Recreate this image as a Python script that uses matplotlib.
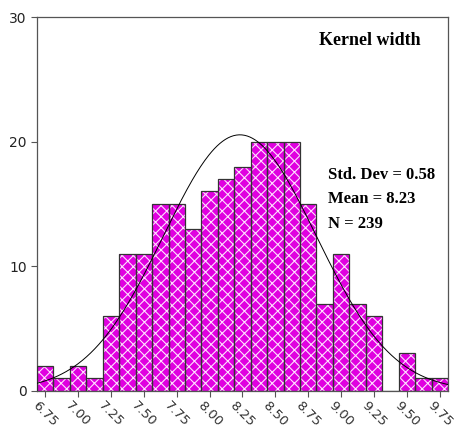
import numpy as np
import matplotlib
matplotlib.use("Agg")
import matplotlib.pyplot as plt
from matplotlib.transforms import ScaledTranslation

bin_centers = [6.75, 6.875, 7.0, 7.125, 7.25, 7.375, 7.5, 7.625, 7.75, 7.875,
               8.0, 8.125, 8.25, 8.375, 8.5, 8.625, 8.75, 8.875, 9.0, 9.125,
               9.25, 9.375, 9.5, 9.625, 9.75]
counts = [2, 1, 2, 1, 6, 11, 11, 15, 15, 13,
          16, 17, 18, 20, 20, 20, 15, 7, 11, 7,
          6, 0, 3, 1, 1]
bin_width = 0.125
mean_val = 8.23
std_val = 0.58
n_val = 239
xtick_vals = [6.75, 7.00, 7.25, 7.50, 7.75, 8.00, 8.25, 8.50, 8.75, 9.00, 9.25, 9.50, 9.75]
ytick_vals = [0, 10, 20, 30]

plt.rcParams["hatch.linewidth"] = 0.8

fig = plt.figure(figsize=(4.59, 4.28), dpi=100)
ax = fig.add_axes([0.0806, 0.0871, 0.8954, 0.8729])

magenta = "#E000E0"
ax.bar(bin_centers, counts, width=bin_width, color=magenta, edgecolor="#FFE0FF",
       hatch="xxx", linewidth=0, zorder=2)
ax.bar(bin_centers, counts, width=bin_width, fill=False, edgecolor="#333333",
       linewidth=0.9, zorder=3)

xlo = bin_centers[0] - bin_width / 2
xhi = bin_centers[-1] + bin_width / 2
xs = np.linspace(xlo, xhi, 300)
ys = n_val * bin_width / (std_val * np.sqrt(2 * np.pi)) * np.exp(-0.5 * ((xs - mean_val) / std_val) ** 2)
ax.plot(xs, ys, color="black", linewidth=0.7, zorder=4)

ax.set_xlim(xlo, xhi)
ax.set_ylim(0, 30)
ax.set_xticks(xtick_vals)
ax.set_xticklabels([f"{v:.2f}" for v in xtick_vals], rotation=-45, ha="center",
                   fontsize=9.5, color="#333333")
offset = ScaledTranslation(3 / 100, 2 / 100, fig.dpi_scale_trans)
for lbl in ax.get_xticklabels():
    lbl.set_transform(lbl.get_transform() + offset)
ax.set_yticks(ytick_vals)
ax.set_yticklabels([str(v) for v in ytick_vals], fontsize=10, color="#222222")
ax.tick_params(axis="both", direction="out", length=4, color="#555555", width=0.8)
ax.tick_params(axis="x", pad=2)
for s in ax.spines.values():
    s.set_color("#555555")
    s.set_linewidth(0.9)

ax.text(0.81, 0.938, "Kernel width", transform=ax.transAxes, ha="center", va="center",
        fontsize=13, fontweight="bold", family="Liberation Serif")
ax.text(0.708, 0.578, "Std. Dev = 0.58", transform=ax.transAxes, ha="left", va="center",
        fontsize=12, fontweight="bold", family="Liberation Serif")
ax.text(0.708, 0.512, "Mean = 8.23", transform=ax.transAxes, ha="left", va="center",
        fontsize=12, fontweight="bold", family="Liberation Serif")
ax.text(0.708, 0.447, "N = 239", transform=ax.transAxes, ha="left", va="center",
        fontsize=12, fontweight="bold", family="Liberation Serif")

fig.savefig("out.png", dpi=100)
